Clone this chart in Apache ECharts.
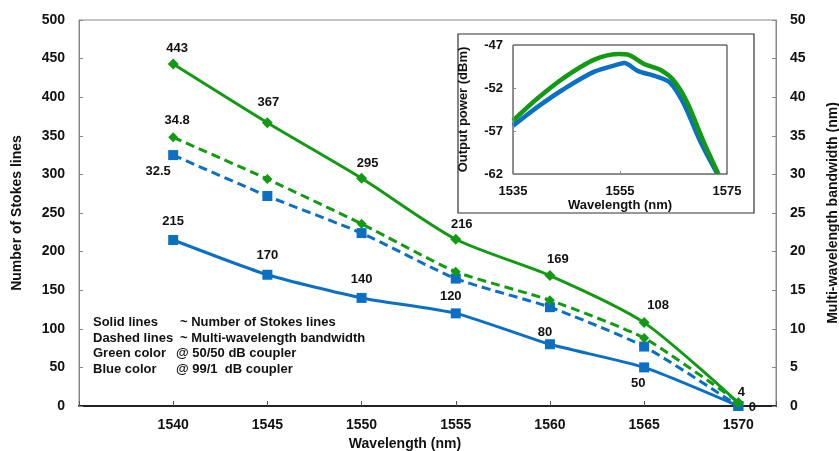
<!DOCTYPE html>
<html>
<head>
<meta charset="utf-8">
<script src="https://cdn.jsdelivr.net/npm/echarts@6/dist/echarts.min.js"></script>
<style>
    html, body { margin: 0; padding: 0; background: #fff; }
    #chart { width: 839px; height: 451px; }
</style>
</head>
<body>
<div id="chart"></div>
<script>
    // main chart data
    const wavelengths = [1540, 1545, 1550, 1555, 1560, 1565, 1570];
    const stokesGreen = [443, 367, 295, 216, 169, 108, 4];
    const stokesBlue = [215, 170, 140, 120, 80, 50, 0];
    const bandwidthGreen = [34.8, 29.4, 23.6, 17.4, 13.7, 8.8, 0.5];
    const bandwidthBlue = [32.5, 27.2, 22.4, 16.5, 12.8, 7.7, 0];

    // inset spectra
    const insetGreenWl = [1535, 1539.6, 1544.3, 1550.2, 1555, 1556.4, 1559.5, 1562.6, 1565, 1567.5, 1570.6, 1573.4];
    const insetGreenPower = [-55.8, -53.2, -50.9, -48.7, -48.05, -48.1, -49.2, -49.9, -51.1, -53.6, -58.2, -62];
    const insetBlueWl = [1535, 1539.6, 1544.3, 1550.2, 1555, 1555.8, 1558.3, 1562, 1564.4, 1566.9, 1570, 1573.2];
    const insetBluePower = [-56.4, -54.2, -52.2, -50.1, -49.2, -49.1, -50.0, -50.7, -51.4, -53.8, -58.2, -62];

    const noteLines = [
        ['Solid lines', '~ Number of Stokes lines'],
        ['Dashed lines', '~ Multi-wavelength bandwidth'],
        ['Green color', '@ 50/50 dB coupler'],
        ['Blue color', '@ 99/1  dB coupler']
    ];

    // label offsets (styling only)
    const greenSolidOffsets = [[4, -16], [1, -20], [6, -15], [6, -15], [8, -16], [14, -17], [3, -10]];
    const blueSolidOffsets = [[0, -19], [0, -19], [0, -18], [-5, -17], [-5, -12], [-6, 16], [14, 1]];

    const GREEN = '#139a13';
    const BLUE = '#0b70c4';
    const FONT = '"Liberation Sans", Arial, sans-serif';

    function pairs(xs, ys) {
        return xs.map((x, i) => [x, ys[i]]);
    }

    function labelled(xs, ys, offsets) {
        return xs.map((x, i) => ({
            value: [x, ys[i]],
            label: { show: true, offset: offsets[i] }
        }));
    }

    function firstLabelled(xs, ys, offset) {
        return xs.map((x, i) => ({
            value: [x, ys[i]],
            label: { show: i === 0, offset: offset }
        }));
    }

    const labelStyle = {
        position: 'inside',
        color: '#111',
        fontFamily: FONT,
        fontWeight: 'bold',
        fontSize: 13
    };

    let chart = echarts.init(document.getElementById('chart'));
    let option = {
        animation: false,
        backgroundColor: '#fff',
        textStyle: { fontFamily: FONT },
        grid: [
            { left: 79, right: 63, top: 20, bottom: 45, show: true, borderColor: '#888', borderWidth: 1, outerBoundsMode: 'none', containLabel: false },
            { left: 513, top: 45, width: 214, height: 129, show: true, borderColor: '#222', borderWidth: 1, backgroundColor: '#fff', outerBoundsMode: 'none', containLabel: false, z: 5 }
        ],
        graphic: [
            {
                type: 'rect', z: -1,
                shape: { x: 458, y: 34, width: 296, height: 179 },
                style: { fill: '#fff', stroke: '#333', lineWidth: 1.2 }
            },
            {
                type: 'text', left: 93, top: 316, z: 10,
                style: {
                    text: noteLines.map((l, i) => '{' + (i < 2 ? 'a' : 'c') + '|' + l[0] + '}{b|' + l[1] + '}').join('\n'),
                    rich: {
                        a: { width: 87, fontSize: 13, fontWeight: 'bold', fontFamily: FONT, fill: '#111', lineHeight: 15.5 },
                        c: { width: 83, fontSize: 13, fontWeight: 'bold', fontFamily: FONT, fill: '#111', lineHeight: 15.5 },
                        b: { fontSize: 13, fontWeight: 'bold', fontFamily: FONT, fill: '#111', lineHeight: 15.5 }
                    }
                }
            }
        ],
        xAxis: [
            {
                gridIndex: 0, type: 'value', min: 1535, max: 1572, interval: 5,
                name: 'Wavelength (nm)', nameLocation: 'middle', nameGap: 30,
                nameTextStyle: { fontSize: 14, fontWeight: 'bold', color: '#111', padding: [0, 45, 0, 0] },
                axisLine: { lineStyle: { color: '#222', width: 2 } },
                axisTick: { inside: true, length: 5, lineStyle: { color: '#555' } },
                axisLabel: {
                    margin: 12, fontSize: 14, fontWeight: 'bold', color: '#111',
                    formatter: v => (v % 5 === 0 && v !== 1535) ? String(v) : ''
                },
                splitLine: { show: false }
            },
            {
                gridIndex: 1, type: 'value', min: 1535, max: 1575, interval: 20, z: 8,
                name: 'Wavelength (nm)', nameLocation: 'middle', nameGap: 24,
                nameTextStyle: { fontSize: 13, fontWeight: 'bold', color: '#111' },
                axisLine: { lineStyle: { color: '#888', width: 1 } },
                axisTick: { inside: true, length: 3, lineStyle: { color: '#888' } },
                axisLabel: { margin: 11, fontSize: 13, fontWeight: 'bold', color: '#111', formatter: v => String(v) },
                splitLine: { show: false }
            }
        ],
        yAxis: [
            {
                gridIndex: 0, type: 'value', min: 0, max: 500, interval: 50,
                name: 'Number of Stokes lines', nameLocation: 'middle', nameGap: 55,
                nameTextStyle: { fontSize: 14, fontWeight: 'bold', color: '#111' },
                axisLine: { show: true, lineStyle: { color: '#888' } },
                axisTick: { inside: true, length: 4, lineStyle: { color: '#888' } },
                axisLabel: { margin: 14, fontSize: 14, fontWeight: 'bold', color: '#111' },
                splitLine: { show: false }
            },
            {
                gridIndex: 0, type: 'value', position: 'right', min: 0, max: 50, interval: 5,
                name: 'Multi-wavelength bandwidth (nm)', nameLocation: 'middle', nameGap: 50,
                nameTextStyle: { fontSize: 14, fontWeight: 'bold', color: '#111' },
                axisLine: { show: true, lineStyle: { color: '#888' } },
                axisTick: { inside: true, length: 4, lineStyle: { color: '#888' } },
                axisLabel: { margin: 14, fontSize: 14, fontWeight: 'bold', color: '#111' },
                splitLine: { show: false }
            },
            {
                gridIndex: 1, type: 'value', min: -62, max: -47, interval: 5, z: 8,
                name: 'Output power (dBm)', nameLocation: 'middle', nameGap: 43,
                nameTextStyle: { fontSize: 13, fontWeight: 'bold', color: '#111' },
                axisLine: { show: true, lineStyle: { color: '#888' } },
                axisTick: { inside: true, length: 3, lineStyle: { color: '#888' } },
                axisLabel: { margin: 10, fontSize: 13, fontWeight: 'bold', color: '#111' },
                splitLine: { show: false }
            }
        ],
        series: [
            {
                name: 'Bandwidth 99/1', type: 'line', xAxisIndex: 0, yAxisIndex: 1,
                data: firstLabelled(wavelengths, bandwidthBlue, [-15, 16]),
                smooth: 0.2, symbol: 'rect', symbolSize: 10,
                lineStyle: { color: BLUE, width: 3, type: [9, 5] },
                itemStyle: { color: BLUE },
                label: labelStyle, z: 2
            },
            {
                name: 'Bandwidth 50/50', type: 'line', xAxisIndex: 0, yAxisIndex: 1,
                data: firstLabelled(wavelengths, bandwidthGreen, [4, -17]),
                smooth: 0.2, symbol: 'diamond', symbolSize: 10,
                lineStyle: { color: GREEN, width: 3, type: [9, 5] },
                itemStyle: { color: GREEN },
                label: labelStyle, z: 2
            },
            {
                name: 'Stokes 99/1', type: 'line', xAxisIndex: 0, yAxisIndex: 0,
                data: labelled(wavelengths, stokesBlue, blueSolidOffsets),
                smooth: 0.2, symbol: 'rect', symbolSize: 10,
                lineStyle: { color: BLUE, width: 3 },
                itemStyle: { color: BLUE },
                label: labelStyle, z: 3
            },
            {
                name: 'Stokes 50/50', type: 'line', xAxisIndex: 0, yAxisIndex: 0,
                data: labelled(wavelengths, stokesGreen, greenSolidOffsets),
                smooth: 0.25, symbol: 'diamond', symbolSize: 11,
                lineStyle: { color: GREEN, width: 3 },
                itemStyle: { color: GREEN },
                label: labelStyle, z: 3
            },
            {
                name: 'Inset 99/1', type: 'line', xAxisIndex: 1, yAxisIndex: 2,
                data: pairs(insetBlueWl, insetBluePower),
                smooth: 0.3, showSymbol: false, clip: true,
                lineStyle: { color: BLUE, width: 4.5 }, z: 6
            },
            {
                name: 'Inset 50/50', type: 'line', xAxisIndex: 1, yAxisIndex: 2,
                data: pairs(insetGreenWl, insetGreenPower),
                smooth: 0.3, showSymbol: false, clip: true,
                lineStyle: { color: GREEN, width: 4.5 }, z: 7
            }
        ]
    };
    chart.setOption(option);
</script>
</body>
</html>
